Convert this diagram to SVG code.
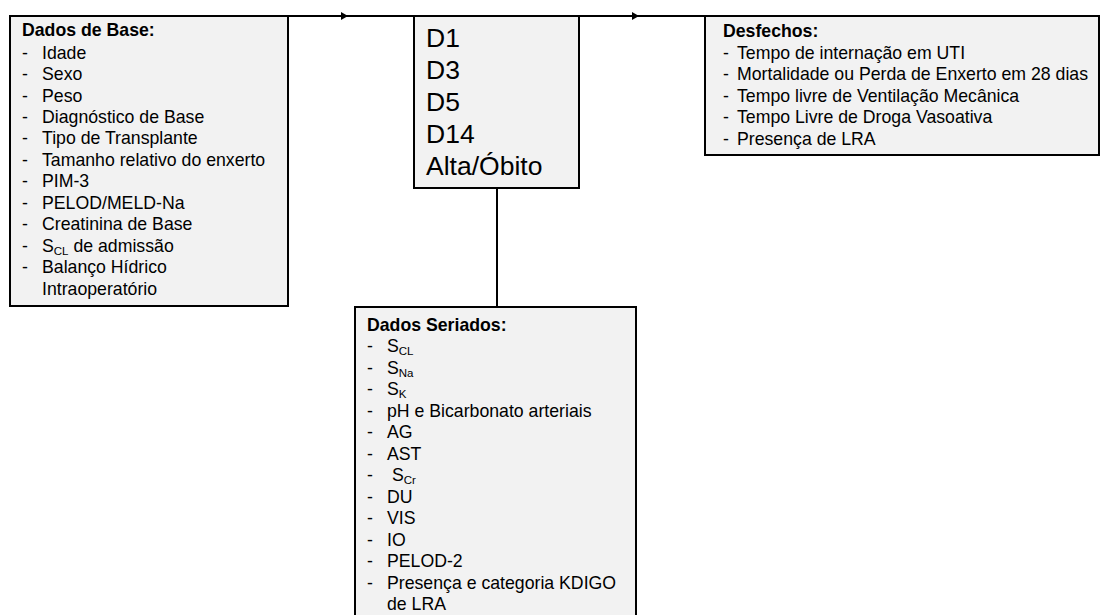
<svg xmlns="http://www.w3.org/2000/svg" xmlns:xlink="http://www.w3.org/1999/xlink" width="1101" height="615" viewBox="0 0 1101 615">
<style>
.box{fill:#f2f2f2;stroke:#000;stroke-width:2}
.ln{fill:none;stroke:#000;stroke-width:2}
text{font-family:"Liberation Sans",Arial,sans-serif;font-size:17.7px;fill:#000}
.t{font-weight:bold}
.big{font-size:26.5px}
.sub{font-size:11.5px}
</style>
<defs>
<path id="ah" d="M0,0 L-7,-4 L-7,4 Z" fill="#000"/>
</defs>
<rect width="1101" height="615" fill="#fff"/>
<g id="connectors">
<path class="ln" d="M9,16 H1099"/>
<use xlink:href="#ah" x="348" y="16"/>
<use xlink:href="#ah" x="639" y="16"/>
<path class="ln" d="M497,188 V307"/>
</g>
<g id="dados-base">
<rect class="box" x="10" y="16" width="278" height="290"/>
<text class="t" x="22" y="36">Dados de Base:</text>
<g>
<text x="22" y="59">-</text><text x="42" y="59">Idade</text>
<text x="22" y="80">-</text><text x="42" y="80">Sexo</text>
<text x="22" y="102">-</text><text x="42" y="102">Peso</text>
<text x="22" y="123">-</text><text x="42" y="123">Diagnóstico de Base</text>
<text x="22" y="144">-</text><text x="42" y="144">Tipo de Transplante</text>
<text x="22" y="166">-</text><text x="42" y="166">Tamanho relativo do enxerto</text>
<text x="22" y="187">-</text><text x="42" y="187">PIM-3</text>
<text x="22" y="209">-</text><text x="42" y="209">PELOD/MELD-Na</text>
<text x="22" y="230">-</text><text x="42" y="230">Creatinina de Base</text>
<text x="22" y="252">-</text><text x="42" y="252">S<tspan class="sub" dy="3">CL</tspan><tspan dy="-3"> de admissão</tspan></text>
<text x="22" y="273">-</text><text x="42" y="273">Balanço Hídrico</text>
<text x="42" y="295">Intraoperatório</text>
</g>
</g>
<g id="tempos">
<rect class="box" x="414" y="16" width="165" height="172"/>
<text class="big" x="426" y="47">D1</text>
<text class="big" x="426" y="79">D3</text>
<text class="big" x="426" y="111">D5</text>
<text class="big" x="426" y="143">D14</text>
<text class="big" x="426" y="175">Alta/Óbito</text>
</g>
<g id="desfechos">
<rect class="box" x="705" y="16" width="394" height="139"/>
<text class="t" x="723" y="37">Desfechos:</text>
<text x="723" y="59">-</text><text x="737" y="59">Tempo de internação em UTI</text>
<text x="723" y="80">-</text><text x="737" y="80">Mortalidade ou Perda de Enxerto em 28 dias</text>
<text x="723" y="102">-</text><text x="737" y="102">Tempo livre de Ventilação Mecânica</text>
<text x="723" y="123">-</text><text x="737" y="123">Tempo Livre de Droga Vasoativa</text>
<text x="723" y="145">-</text><text x="737" y="145">Presença de LRA</text>
</g>
<g id="dados-seriados">
<rect class="box" x="355" y="307" width="281" height="330"/>
<text class="t" x="367" y="331">Dados Seriados:</text>
<text x="367" y="352">-</text><text x="387" y="352">S<tspan class="sub" dy="3">CL</tspan></text>
<text x="367" y="374">-</text><text x="387" y="374">S<tspan class="sub" dy="3">Na</tspan></text>
<text x="367" y="395">-</text><text x="387" y="395">S<tspan class="sub" dy="3">K</tspan></text>
<text x="367" y="417">-</text><text x="387" y="417">pH e Bicarbonato arteriais</text>
<text x="367" y="438">-</text><text x="387" y="438">AG</text>
<text x="367" y="460">-</text><text x="387" y="460">AST</text>
<text x="367" y="481">-</text><text x="392" y="481">S<tspan class="sub" dy="3">Cr</tspan></text>
<text x="367" y="503">-</text><text x="387" y="503">DU</text>
<text x="367" y="524">-</text><text x="387" y="524">VIS</text>
<text x="367" y="546">-</text><text x="387" y="546">IO</text>
<text x="367" y="567">-</text><text x="387" y="567">PELOD-2</text>
<text x="367" y="589">-</text><text x="387" y="589">Presença e categoria KDIGO</text>
<text x="387" y="610">de LRA</text>
</g>
</svg>
